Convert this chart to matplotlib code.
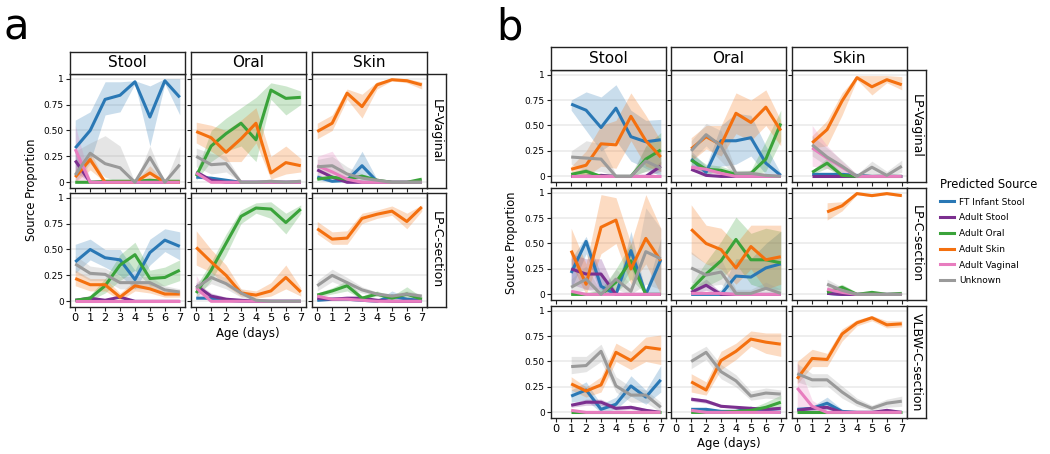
import numpy as np
import matplotlib
matplotlib.use("Agg")
import matplotlib.pyplot as plt
from matplotlib.lines import Line2D

# ── Data ────────────────────────────────────────────────────
N = None
days = list(range(8))
sources = ["FT Infant Stool", "Adult Stool", "Adult Oral",
           "Adult Skin", "Adult Vaginal", "Unknown"]
colors = ["#2a78b5", "#7b2f8f", "#3aa33a", "#f4700f", "#e87dbf", "#9a9a9a"]
sites = ["Stool", "Oral", "Skin"]
groups_a = ["LP-Vaginal", "LP-C-section"]
groups_b = ["LP-Vaginal", "LP-C-section", "VLBW-C-section"]
yticks = [0, 0.25, 0.5, 0.75, 1]
ytick_labels = ["0", "0.25", "0.50", "0.75", "1"]

# means: one row per source (order as in `sources`); bands: {source index: (lo, hi)}
# panel a, LP-Vaginal
a_vag_stool = [
    [0.33, 0.50, 0.80, 0.84, 0.97, 0.63, 0.98, 0.82],
    [0.21, 0.00, 0.00, 0.00, 0.00, 0.00, 0.00, 0.00],
    [0.00, 0.00, 0.01, 0.01, 0.01, 0.02, 0.01, 0.01],
    [0.05, 0.22, 0.00, 0.00, 0.00, 0.09, 0.00, 0.00],
    [0.32, 0.00, 0.00, 0.00, 0.00, 0.00, 0.00, 0.00],
    [0.07, 0.28, 0.18, 0.14, 0.00, 0.24, 0.00, 0.17],
]
a_vag_stool_band = {
    0: ([0.05, 0.20, 0.65, 0.68, 0.95, 0.35, 0.95, 0.65], [0.60, 0.68, 0.97, 0.97, 0.98, 0.93, 1.00, 1.00]),
    1: ([0.10, 0.00, 0, 0, 0, 0, 0, 0], [0.30, 0.02, 0, 0, 0, 0, 0, 0]),
    3: ([0.00, 0.12, 0, 0, 0, 0.03, 0, 0], [0.12, 0.30, 0.01, 0, 0, 0.16, 0, 0]),
    4: ([0.02, 0.00, 0, 0, 0, 0, 0, 0], [0.55, 0.02, 0, 0, 0, 0, 0, 0]),
    5: ([0.00, 0.18, 0.05, 0.00, 0.00, 0.10, 0.00, 0.00], [0.30, 0.38, 0.45, 0.35, 0.00, 0.35, 0.00, 0.35]),
}
a_vag_oral = [
    [0.05, 0.04, 0.02, 0.00, 0.00, 0.00, 0.00, 0.00],
    [0.10, 0.02, 0.00, 0.00, 0.00, 0.00, 0.00, 0.00],
    [0.06, 0.35, 0.47, 0.57, 0.41, 0.89, 0.81, 0.82],
    [0.49, 0.43, 0.29, 0.42, 0.57, 0.09, 0.19, 0.16],
    [0.09, 0.00, 0.00, 0.00, 0.00, 0.00, 0.00, 0.00],
    [0.25, 0.17, 0.18, 0.00, 0.00, 0.01, 0.00, 0.01],
]
a_vag_oral_band = {
    2: ([0.02, 0.20, 0.30, 0.35, 0.20, 0.80, 0.65, 0.75], [0.10, 0.50, 0.62, 0.72, 0.82, 0.96, 0.93, 0.88]),
    3: ([0.38, 0.30, 0.20, 0.20, 0.38, 0.03, 0.08, 0.10], [0.58, 0.55, 0.50, 0.60, 0.72, 0.25, 0.35, 0.23]),
    5: ([0.15, 0.08, 0.10, 0.00, 0.00, 0.00, 0.00, 0.00], [0.33, 0.28, 0.25, 0.02, 0.02, 0.03, 0.02, 0.03]),
}
a_vag_skin = [
    [0.05, 0.01, 0.02, 0.16, 0.01, 0.00, 0.00, 0.00],
    [0.12, 0.05, 0.00, 0.00, 0.00, 0.00, 0.00, 0.00],
    [0.03, 0.05, 0.03, 0.06, 0.02, 0.00, 0.00, 0.03],
    [0.49, 0.57, 0.86, 0.73, 0.94, 0.99, 0.98, 0.94],
    [0.16, 0.10, 0.03, 0.00, 0.00, 0.00, 0.00, 0.00],
    [0.15, 0.16, 0.08, 0.04, 0.02, 0.00, 0.00, 0.00],
]
a_vag_skin_band = {
    0: ([0.02, 0.00, 0.00, 0.05, 0.00, 0, 0, 0], [0.08, 0.03, 0.05, 0.30, 0.03, 0.01, 0, 0]),
    3: ([0.42, 0.50, 0.80, 0.62, 0.90, 0.98, 0.96, 0.90], [0.57, 0.65, 0.90, 0.85, 0.97, 1.00, 1.00, 0.97]),
    4: ([0.05, 0.03, 0.00, 0.00, 0, 0, 0, 0], [0.25, 0.30, 0.08, 0.02, 0, 0, 0, 0]),
    5: ([0.08, 0.08, 0.03, 0.01, 0, 0, 0, 0], [0.22, 0.25, 0.15, 0.08, 0.04, 0.01, 0.01, 0.01]),
}
# panel a, LP-C-section
a_cs_stool = [
    [0.38, 0.50, 0.42, 0.40, 0.21, 0.47, 0.59, 0.53],
    [0.01, 0.03, 0.01, 0.04, 0.00, 0.00, 0.00, 0.00],
    [0.01, 0.03, 0.15, 0.35, 0.45, 0.22, 0.23, 0.30],
    [0.22, 0.16, 0.16, 0.04, 0.15, 0.12, 0.07, 0.07],
    [0.00, 0.00, 0.00, 0.00, 0.00, 0.00, 0.00, 0.00],
    [0.36, 0.27, 0.26, 0.18, 0.18, 0.18, 0.11, 0.09],
]
a_cs_stool_band = {
    0: ([0.27, 0.40, 0.33, 0.25, 0.12, 0.35, 0.48, 0.40], [0.55, 0.60, 0.50, 0.50, 0.30, 0.60, 0.70, 0.67]),
    2: ([0.00, 0.01, 0.08, 0.20, 0.30, 0.15, 0.15, 0.20], [0.02, 0.06, 0.22, 0.45, 0.57, 0.30, 0.33, 0.40]),
    3: ([0.15, 0.10, 0.10, 0.01, 0.10, 0.08, 0.04, 0.04], [0.30, 0.22, 0.22, 0.08, 0.20, 0.17, 0.10, 0.10]),
    5: ([0.28, 0.20, 0.20, 0.12, 0.12, 0.12, 0.07, 0.06], [0.44, 0.34, 0.32, 0.24, 0.24, 0.24, 0.15, 0.12]),
}
a_cs_oral = [
    [0.03, 0.03, 0.01, 0.00, 0.00, 0.00, 0.00, 0.00],
    [0.15, 0.05, 0.02, 0.01, 0.00, 0.00, 0.00, 0.00],
    [0.08, 0.30, 0.56, 0.82, 0.90, 0.89, 0.76, 0.89],
    [0.52, 0.38, 0.25, 0.08, 0.06, 0.10, 0.23, 0.09],
    [0.13, 0.00, 0.00, 0.00, 0.00, 0.00, 0.00, 0.00],
    [0.13, 0.23, 0.17, 0.08, 0.01, 0.00, 0.00, 0.00],
]
a_cs_oral_band = {
    1: ([0.10, 0.02, 0, 0, 0, 0, 0, 0], [0.18, 0.08, 0.04, 0.02, 0.01, 0, 0, 0]),
    2: ([0.03, 0.20, 0.45, 0.75, 0.85, 0.80, 0.65, 0.85], [0.15, 0.38, 0.65, 0.88, 0.95, 0.96, 0.85, 0.93]),
    3: ([0.35, 0.28, 0.15, 0.05, 0.03, 0.05, 0.12, 0.05], [0.68, 0.50, 0.35, 0.12, 0.10, 0.18, 0.35, 0.13]),
    4: ([0.05, 0.00, 0, 0, 0, 0, 0, 0], [0.25, 0.01, 0, 0, 0, 0, 0, 0]),
    5: ([0.08, 0.17, 0.12, 0.04, 0, 0, 0, 0], [0.18, 0.28, 0.23, 0.12, 0.03, 0.01, 0.01, 0.01]),
}
a_cs_skin = [
    [0.01, 0.02, 0.02, 0.01, 0.00, 0.05, 0.02, 0.01],
    [0.03, 0.02, 0.03, 0.03, 0.01, 0.00, 0.00, 0.00],
    [0.06, 0.10, 0.15, 0.03, 0.07, 0.03, 0.07, 0.02],
    [0.70, 0.60, 0.61, 0.80, 0.84, 0.87, 0.77, 0.91],
    [0.05, 0.02, 0.02, 0.01, 0.00, 0.00, 0.00, 0.00],
    [0.15, 0.25, 0.18, 0.11, 0.07, 0.05, 0.07, 0.05],
]
a_cs_skin_band = {
    0: ([0.00, 0.01, 0.01, 0.00, 0.00, 0.02, 0.01, 0.00], [0.02, 0.03, 0.03, 0.02, 0.01, 0.10, 0.04, 0.02]),
    2: ([0.04, 0.07, 0.10, 0.02, 0.05, 0.02, 0.04, 0.01], [0.08, 0.13, 0.20, 0.05, 0.10, 0.05, 0.14, 0.04]),
    3: ([0.65, 0.55, 0.55, 0.75, 0.80, 0.83, 0.70, 0.87], [0.77, 0.67, 0.68, 0.85, 0.88, 0.92, 0.85, 0.93]),
    5: ([0.10, 0.19, 0.13, 0.08, 0.05, 0.03, 0.04, 0.03], [0.20, 0.31, 0.23, 0.14, 0.09, 0.07, 0.10, 0.07]),
}
# panel b, LP-Vaginal
b_vag_stool = [
    [N, 0.71, 0.65, 0.48, 0.67, 0.39, 0.34, 0.36],
    [N, 0.00, 0.00, 0.01, 0.00, 0.00, 0.00, 0.10],
    [N, 0.02, 0.05, 0.00, 0.00, 0.00, 0.17, 0.26],
    [N, 0.07, 0.11, 0.32, 0.31, 0.59, 0.35, 0.19],
    [N, 0.00, 0.00, 0.00, 0.00, 0.00, 0.00, 0.00],
    [N, 0.19, 0.18, 0.17, 0.00, 0.00, 0.15, 0.08],
]
b_vag_stool_band = {
    0: ([N, 0.65, 0.45, 0.25, 0.35, 0.15, 0.08, 0.00], [N, 0.75, 0.83, 0.78, 0.90, 0.65, 0.55, 0.56]),
    1: ([N, 0, 0, 0, 0, 0, 0, 0.05], [N, 0.01, 0.02, 0.03, 0.01, 0.01, 0.02, 0.15]),
    2: ([N, 0.00, 0.02, 0, 0, 0, 0.05, 0.12], [N, 0.04, 0.08, 0.01, 0, 0, 0.30, 0.43]),
    3: ([N, 0.05, 0.00, 0.10, 0.08, 0.35, 0.10, 0.05], [N, 0.10, 0.25, 0.50, 0.55, 0.82, 0.60, 0.35]),
    5: ([N, 0.12, 0.05, 0.05, 0.00, 0.00, 0.05, 0.02], [N, 0.25, 0.35, 0.32, 0.02, 0.02, 0.30, 0.20]),
}
b_vag_oral = [
    [N, 0.17, 0.04, 0.35, 0.35, 0.38, 0.13, 0.01],
    [N, 0.07, 0.01, 0.00, 0.00, 0.00, 0.00, 0.00],
    [N, 0.16, 0.07, 0.06, 0.02, 0.03, 0.17, 0.52],
    [N, 0.27, 0.39, 0.31, 0.62, 0.53, 0.68, 0.45],
    [N, 0.09, 0.07, 0.03, 0.00, 0.00, 0.00, 0.00],
    [N, 0.25, 0.41, 0.30, 0.03, 0.03, 0.01, 0.00],
]
b_vag_oral_band = {
    0: ([N, 0.10, 0.00, 0.10, 0.12, 0.20, 0.02, 0.00], [N, 0.25, 0.10, 0.50, 0.62, 0.60, 0.30, 0.03]),
    2: ([N, 0.10, 0.03, 0.03, 0.00, 0.01, 0.05, 0.35], [N, 0.22, 0.12, 0.10, 0.05, 0.06, 0.35, 0.65]),
    3: ([N, 0.15, 0.27, 0.20, 0.42, 0.35, 0.50, 0.30], [N, 0.38, 0.50, 0.50, 0.82, 0.75, 0.85, 0.55]),
    4: ([N, 0.05, 0.04, 0.01, 0, 0, 0, 0], [N, 0.12, 0.10, 0.05, 0.01, 0, 0, 0]),
    5: ([N, 0.15, 0.30, 0.15, 0.00, 0.00, 0.00, 0.00], [N, 0.35, 0.52, 0.45, 0.06, 0.06, 0.03, 0.01]),
}
b_vag_skin = [
    [N, 0.02, 0.02, 0.02, 0.01, 0.00, 0.00, 0.00],
    [N, 0.00, 0.00, 0.00, 0.00, 0.00, 0.00, 0.00],
    [N, 0.04, 0.13, 0.01, 0.00, 0.00, 0.00, 0.00],
    [N, 0.33, 0.46, 0.74, 0.97, 0.88, 0.95, 0.90],
    [N, 0.28, 0.18, 0.09, 0.00, 0.00, 0.00, 0.00],
    [N, 0.31, 0.19, 0.10, 0.00, 0.09, 0.01, 0.10],
]
b_vag_skin_band = {
    2: ([N, 0.02, 0.08, 0.00, 0, 0, 0, 0], [N, 0.06, 0.18, 0.03, 0.01, 0, 0, 0]),
    3: ([N, 0.28, 0.30, 0.60, 0.95, 0.80, 0.92, 0.85], [N, 0.40, 0.55, 0.82, 0.99, 0.99, 0.99, 0.98]),
    4: ([N, 0.10, 0.08, 0.03, 0, 0, 0, 0], [N, 0.50, 0.30, 0.15, 0.02, 0, 0, 0]),
    5: ([N, 0.20, 0.10, 0.04, 0.00, 0.03, 0.00, 0.04], [N, 0.40, 0.28, 0.16, 0.02, 0.15, 0.05, 0.16]),
}
# panel b, LP-C-section
b_cs_stool = [
    [N, 0.21, 0.52, 0.08, 0.00, 0.43, 0.00, 0.34],
    [N, 0.25, 0.20, 0.20, 0.00, 0.00, 0.00, 0.00],
    [N, 0.00, 0.00, 0.00, 0.12, 0.33, 0.00, 0.00],
    [N, 0.43, 0.10, 0.66, 0.73, 0.25, 0.55, 0.33],
    [N, 0.03, 0.00, 0.00, 0.00, 0.00, 0.00, 0.00],
    [N, 0.07, 0.15, 0.00, 0.15, 0.03, 0.42, 0.35],
]
b_cs_stool_band = {
    0: ([N, 0.05, 0.40, 0.00, 0.00, 0.25, 0.00, 0.00], [N, 0.35, 0.57, 0.20, 0.02, 0.62, 0.02, 0.55]),
    1: ([N, 0.10, 0.05, 0.05, 0, 0, 0, 0], [N, 0.40, 0.35, 0.35, 0.02, 0, 0, 0]),
    2: ([N, 0, 0, 0, 0.02, 0.15, 0, 0], [N, 0.01, 0.01, 0.05, 0.25, 0.50, 0.02, 0.01]),
    3: ([N, 0.30, 0.00, 0.40, 0.50, 0.10, 0.30, 0.00], [N, 0.65, 0.30, 0.98, 0.95, 0.50, 0.98, 0.65]),
    5: ([N, 0.00, 0.05, 0.00, 0.05, 0.00, 0.10, 0.05], [N, 0.15, 0.28, 0.02, 0.25, 0.10, 0.85, 0.65]),
}
b_cs_oral = [
    [N, 0.00, 0.00, 0.00, 0.18, 0.17, 0.26, 0.30],
    [N, 0.02, 0.09, 0.00, 0.00, 0.00, 0.00, 0.00],
    [N, 0.05, 0.20, 0.33, 0.54, 0.34, 0.34, 0.31],
    [N, 0.64, 0.50, 0.44, 0.26, 0.47, 0.34, 0.37],
    [N, 0.01, 0.01, 0.01, 0.00, 0.00, 0.00, 0.00],
    [N, 0.26, 0.19, 0.22, 0.01, 0.01, 0.06, 0.01],
]
b_cs_oral_band = {
    0: ([N, 0, 0, 0, 0.02, 0.02, 0.05, 0.05], [N, 0.01, 0.01, 0.05, 0.35, 0.35, 0.50, 0.62]),
    1: ([N, 0.00, 0.04, 0, 0, 0, 0, 0], [N, 0.05, 0.15, 0.02, 0, 0, 0, 0]),
    2: ([N, 0.00, 0.08, 0.15, 0.30, 0.10, 0.05, 0.02], [N, 0.10, 0.32, 0.52, 0.76, 0.60, 0.65, 0.62]),
    3: ([N, 0.40, 0.30, 0.25, 0.10, 0.25, 0.05, 0.10], [N, 0.88, 0.68, 0.65, 0.50, 0.68, 0.68, 0.68]),
    5: ([N, 0.12, 0.08, 0.10, 0.00, 0.00, 0.01, 0.00], [N, 0.42, 0.30, 0.35, 0.05, 0.05, 0.12, 0.05]),
}
b_cs_skin = [
    [N, N, 0.01, 0.00, 0.00, 0.00, 0.00, 0.00],
    [N, N, 0.01, 0.00, 0.00, 0.00, 0.00, 0.00],
    [N, N, 0.02, 0.07, 0.00, 0.02, 0.00, 0.01],
    [N, N, 0.81, 0.87, 0.99, 0.97, 0.99, 0.97],
    [N, N, 0.05, 0.02, 0.00, 0.00, 0.00, 0.00],
    [N, N, 0.10, 0.04, 0.00, 0.00, 0.00, 0.00],
]
b_cs_skin_band = {
    2: ([N, N, 0.01, 0.04, 0.00, 0.01, 0.00, 0.00], [N, N, 0.04, 0.10, 0.02, 0.03, 0.01, 0.02]),
    3: ([N, N, 0.73, 0.82, 0.98, 0.96, 0.98, 0.96], [N, N, 0.90, 0.91, 1.00, 0.98, 1.00, 0.98]),
    4: ([N, N, 0.03, 0.01, 0, 0, 0, 0], [N, N, 0.08, 0.03, 0.01, 0, 0, 0]),
    5: ([N, N, 0.06, 0.02, 0, 0, 0, 0], [N, N, 0.15, 0.07, 0.01, 0.01, 0.01, 0.01]),
}
# panel b, VLBW-C-section
b_vlbw_stool = [
    [N, 0.16, 0.22, 0.03, 0.08, 0.26, 0.15, 0.32],
    [N, 0.07, 0.10, 0.10, 0.04, 0.05, 0.02, 0.00],
    [N, 0.00, 0.00, 0.00, 0.00, 0.00, 0.00, 0.00],
    [N, 0.28, 0.21, 0.27, 0.59, 0.51, 0.64, 0.62],
    [N, 0.02, 0.00, 0.00, 0.00, 0.00, 0.00, 0.00],
    [N, 0.45, 0.46, 0.60, 0.26, 0.17, 0.17, 0.05],
]
b_vlbw_stool_band = {
    0: ([N, 0.10, 0.12, 0.00, 0.03, 0.16, 0.08, 0.20], [N, 0.22, 0.30, 0.08, 0.15, 0.36, 0.22, 0.46]),
    1: ([N, 0.05, 0.07, 0.07, 0.02, 0.03, 0.01, 0.00], [N, 0.09, 0.13, 0.13, 0.06, 0.07, 0.04, 0.01]),
    3: ([N, 0.22, 0.15, 0.20, 0.50, 0.42, 0.50, 0.47], [N, 0.35, 0.25, 0.35, 0.68, 0.60, 0.74, 0.76]),
    5: ([N, 0.38, 0.40, 0.50, 0.20, 0.10, 0.10, 0.00], [N, 0.55, 0.55, 0.67, 0.35, 0.25, 0.22, 0.10]),
}
b_vlbw_oral = [
    [N, 0.03, 0.03, 0.01, 0.01, 0.04, 0.01, 0.00],
    [N, 0.13, 0.11, 0.06, 0.05, 0.04, 0.03, 0.04],
    [N, 0.00, 0.00, 0.00, 0.01, 0.02, 0.05, 0.10],
    [N, 0.30, 0.22, 0.51, 0.60, 0.72, 0.69, 0.67],
    [N, 0.02, 0.00, 0.00, 0.00, 0.00, 0.00, 0.00],
    [N, 0.50, 0.59, 0.40, 0.31, 0.16, 0.19, 0.18],
]
b_vlbw_oral_band = {
    0: ([N, 0.01, 0.01, 0.00, 0.00, 0.02, 0.00, 0.00], [N, 0.04, 0.05, 0.02, 0.02, 0.06, 0.02, 0.01]),
    1: ([N, 0.11, 0.09, 0.05, 0.04, 0.03, 0.02, 0.02], [N, 0.15, 0.13, 0.08, 0.06, 0.05, 0.04, 0.06]),
    2: ([N, 0.00, 0.00, 0.00, 0.00, 0.01, 0.02, 0.05], [N, 0.01, 0.01, 0.01, 0.02, 0.04, 0.10, 0.17]),
    3: ([N, 0.20, 0.17, 0.42, 0.52, 0.65, 0.58, 0.55], [N, 0.38, 0.30, 0.60, 0.68, 0.80, 0.78, 0.78]),
    5: ([N, 0.43, 0.52, 0.33, 0.25, 0.12, 0.14, 0.13], [N, 0.57, 0.65, 0.47, 0.37, 0.21, 0.24, 0.22]),
}
b_vlbw_skin = [
    [0.03, 0.04, 0.09, 0.01, 0.00, 0.00, 0.00, 0.00],
    [0.02, 0.04, 0.05, 0.00, 0.00, 0.00, 0.02, 0.00],
    [0.00, 0.00, 0.00, 0.00, 0.00, 0.00, 0.00, 0.00],
    [0.33, 0.53, 0.52, 0.77, 0.88, 0.93, 0.86, 0.87],
    [0.24, 0.06, 0.00, 0.00, 0.00, 0.00, 0.00, 0.00],
    [0.38, 0.32, 0.32, 0.20, 0.10, 0.04, 0.09, 0.11],
]
b_vlbw_skin_band = {
    0: ([0.01, 0.02, 0.03, 0.00, 0, 0, 0, 0], [0.04, 0.06, 0.15, 0.03, 0.01, 0, 0, 0]),
    1: ([0.01, 0.02, 0.03, 0.00, 0, 0, 0.01, 0], [0.03, 0.05, 0.07, 0.01, 0, 0, 0.04, 0.01]),
    3: ([0.28, 0.45, 0.45, 0.70, 0.85, 0.90, 0.83, 0.84], [0.50, 0.62, 0.58, 0.82, 0.91, 0.95, 0.90, 0.90]),
    4: ([0.00, 0.02, 0.00, 0, 0, 0, 0, 0], [0.50, 0.12, 0.02, 0, 0, 0, 0, 0]),
    5: ([0.30, 0.25, 0.26, 0.14, 0.06, 0.02, 0.05, 0.06], [0.48, 0.38, 0.38, 0.26, 0.14, 0.07, 0.13, 0.16]),
}

panels_a = [
    [(a_vag_stool, a_vag_stool_band), (a_vag_oral, a_vag_oral_band), (a_vag_skin, a_vag_skin_band)],
    [(a_cs_stool, a_cs_stool_band), (a_cs_oral, a_cs_oral_band), (a_cs_skin, a_cs_skin_band)],
]
panels_b = [
    [(b_vag_stool, b_vag_stool_band), (b_vag_oral, b_vag_oral_band), (b_vag_skin, b_vag_skin_band)],
    [(b_cs_stool, b_cs_stool_band), (b_cs_oral, b_cs_oral_band), (b_cs_skin, b_cs_skin_band)],
    [(b_vlbw_stool, b_vlbw_stool_band), (b_vlbw_oral, b_vlbw_oral_band), (b_vlbw_skin, b_vlbw_skin_band)],
]

# ── Figure ──────────────────────────────────────────────────
W, H = 1050, 454
fig = plt.figure(figsize=(W / 100, H / 100), dpi=100)
EDGE = "#222222"


def px_axes(x0, y0, x1, y1):
    return fig.add_axes([x0 / W, 1 - y1 / H, (x1 - x0) / W, (y1 - y0) / H])


def strip(x0, y0, x1, y1, text, rot=0, size=11):
    s = px_axes(x0, y0, x1, y1)
    s.set_xticks([])
    s.set_yticks([])
    for sp in s.spines.values():
        sp.set_color(EDGE)
        sp.set_linewidth(1.0)
    s.text(0.5, 0.5, text, rotation=rot, ha="center", va="center",
           fontsize=size, transform=s.transAxes)


def draw_panel(ax, mean, band, left, bottom):
    for i in range(len(sources)):
        if i in band:
            lo = np.array(band[i][0], dtype=float)
            hi = np.array(band[i][1], dtype=float)
            ax.fill_between(days, lo, hi, color=colors[i], alpha=0.25, lw=0)
        ax.plot(days, np.array(mean[i], dtype=float), color=colors[i], lw=2.2,
                solid_capstyle="butt")
    ax.set_xlim(-0.35, 7.35)
    ax.set_ylim(-0.055, 1.045)
    ax.set_xticks(days)
    ax.set_yticks(yticks)
    ax.yaxis.grid(True, color="#ebebeb", lw=1.2)
    ax.set_axisbelow(True)
    ax.tick_params(length=3, width=0.8, color=EDGE, pad=1.5)
    if left:
        ax.set_yticklabels(ytick_labels, fontsize=6.5)
    else:
        ax.set_yticklabels([])
    if bottom:
        ax.set_xticklabels([str(d) for d in days], fontsize=8.2)
    else:
        ax.set_xticklabels([])
    for sp in ax.spines.values():
        sp.set_color(EDGE)
        sp.set_linewidth(1.0)


def draw_grid(panels, groups, cols, rows, strip_top, rstrip_x1):
    for r, (y0, y1) in enumerate(rows):
        for c, (x0, x1) in enumerate(cols):
            ax = px_axes(x0, y0, x1, y1)
            mean, band = panels[r][c]
            draw_panel(ax, mean, band, left=(c == 0), bottom=(r == len(rows) - 1))
        strip(cols[-1][1], y0, rstrip_x1, y1, groups[r], rot=-90, size=9)
    for c, (x0, x1) in enumerate(cols):
        strip(x0, strip_top, x1, rows[0][0], sites[c], size=11)


# panel a
cols_a = [(70, 185), (191, 306), (312, 427)]
rows_a = [(74, 188), (193, 307)]
draw_grid(panels_a, groups_a, cols_a, rows_a, 52, 446)
fig.text(248 / W, 1 - 333 / H, "Age (days)", ha="center", va="center", fontsize=8.5)
fig.text(31 / W, 1 - 190 / H, "Source Proportion", rotation=90, ha="center",
         va="center", fontsize=8.3)
fig.text(4 / W, 1 - 40 / H, "a", fontsize=30, va="baseline")

# panel b
cols_b = [(551, 666), (671, 786), (792, 907)]
rows_b = [(70, 182), (188, 300), (306, 418)]
draw_grid(panels_b, groups_b, cols_b, rows_b, 47, 926)
fig.text(729 / W, 1 - 443 / H, "Age (days)", ha="center", va="center", fontsize=8.5)
fig.text(512 / W, 1 - 243 / H, "Source Proportion", rotation=90, ha="center",
         va="center", fontsize=8.3)
fig.text(496 / W, 1 - 40 / H, "b", fontsize=30, va="baseline")

# legend
handles = [Line2D([0], [0], color=c, lw=2.2) for c in colors]
fig.legend(handles, sources, title="Predicted Source", loc="upper left",
           bbox_to_anchor=(938 / W, 1 - 176 / H), frameon=False, fontsize=6.5,
           title_fontsize=8.3, handlelength=1.6, handletextpad=0.5,
           labelspacing=0.75, alignment="left", borderaxespad=0, borderpad=0.2)

fig.savefig("out.png", dpi=100)
plt.close(fig)
